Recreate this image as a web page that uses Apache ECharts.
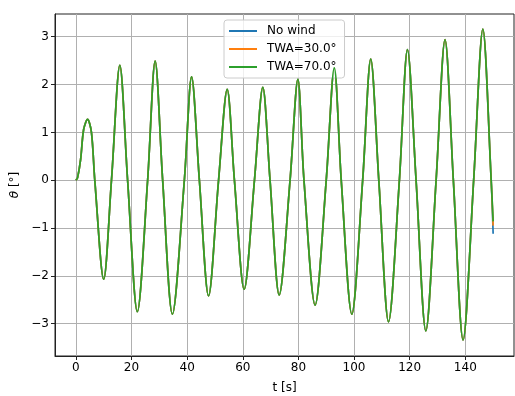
<!DOCTYPE html>
<html>
<head>
<meta charset="utf-8">
<script src="https://cdn.jsdelivr.net/npm/echarts@6/dist/echarts.min.js"></script>
<style>
html, body { margin: 0; padding: 0; background: #fff; }
#chart { width: 515px; height: 396px; }
</style>
</head>
<body>
<div id="chart"></div>
<script>
// time samples [s] (peaks, troughs, zero crossings)
const timeS = [0, 0.6, 1.7, 2.8, 4.2, 5.6, 6.8, 10.0, 12.8, 15.8, 18.6, 22.1, 25.8, 28.5, 31.2, 34.7,
    39.0, 41.6, 44.4, 47.7, 51.3, 54.4, 57.0, 60.5, 64.2, 67.2, 69.8, 73.1, 77.0, 79.8, 82.0, 86.0,
    90.0, 92.9, 95.4, 99.2, 103.1, 106.0, 108.9, 112.4, 116.3, 119.2, 122.3, 125.8, 129.5, 132.7,
    135.7, 139.2, 143.0, 146.3, 149.3]
// roll angle [deg], the three runs overlap almost exactly
const thetaCommon = [0, 0.05, 0.43, 1.06, 1.27, 1.0, 0, -2.07, 0, 2.40, 0, -2.75, 0, 2.49, 0, -2.80,
    0, 2.16, 0, -2.42, 0, 1.90, 0, -2.28, 0, 1.94, 0, -2.40, 0, 2.11, 0, -2.61,
    0, 2.35, 0, -2.80, 0, 2.53, 0, -2.96, 0, 2.73, 0, -3.15, 0, 2.94,
    0, -3.34, 0, 3.16, 0]
const endTime = 150
const seriesNames = ['No wind', 'TWA=30.0°', 'TWA=70.0°']
const endTheta = [-1.12, -0.95, -0.86]
const colors = ['#1f77b4', '#ff7f0e', '#2ca02c']
const xTicks = [0, 20, 40, 60, 80, 100, 120, 140]
const yTicks = [-3, -2, -1, 0, 1, 2, 3]

const font = 'DejaVu Sans'
const chart = echarts.init(document.getElementById('chart'), null, { renderer: 'canvas' })

const series = seriesNames.map((name, i) => {
    const data = timeS.map((t, k) => [t, thetaCommon[k]])
    data.push([endTime, endTheta[i]])
    return {
        name,
        type: 'line',
        data,
        smooth: 0.32,
        showSymbol: false,
        symbol: 'none',
        lineStyle: { width: 1.7, color: colors[i] },
        itemStyle: { color: colors[i] },
        z: 2 + i
    }
})

chart.setOption({
    animation: false,
    color: colors,
    grid: {
        left: 55, right: 1, top: 14, bottom: 40,
        outerBoundsMode: 'none',
        show: true, borderColor: '#222', borderWidth: 1, backgroundColor: 'transparent'
    },
    legend: {
        orient: 'vertical',
        left: 224, top: 20,
        icon: 'rect',
        itemWidth: 28, itemHeight: 2,
        itemGap: 6,
        padding: [5, 8, 5, 5],
        backgroundColor: 'rgba(255,255,255,0.8)',
        borderColor: '#cccccc', borderWidth: 1, borderRadius: 3,
        textStyle: { fontFamily: font, fontSize: 12, color: '#000', padding: [0, 0, 0, 5] },
        data: seriesNames
    },
    xAxis: {
        type: 'value',
        min: -7.5, max: 157.5,
        name: 't [s]',
        nameLocation: 'middle',
        nameGap: 26,
        nameTextStyle: { fontFamily: font, fontSize: 12, color: '#000' },
        axisLine: { show: true, onZero: false, lineStyle: { color: '#222' } },
        axisTick: { show: true, inside: false, length: 4, customValues: xTicks, lineStyle: { color: '#222' } },
        axisLabel: { customValues: xTicks, fontFamily: font, fontSize: 12, color: '#000', margin: 6 },
        splitLine: { show: true, lineStyle: { color: '#b0b0b0', width: 1 } }
    },
    yAxis: {
        type: 'value',
        min: -3.675, max: 3.475,
        name: '{i|θ} [°]',
        nameLocation: 'middle',
        nameGap: 34,
        nameRotate: 90,
        nameTextStyle: {
            fontFamily: font, fontSize: 12, color: '#000',
            rich: { i: { fontFamily: font, fontSize: 12, fontStyle: 'italic', color: '#000' } }
        },
        axisLine: { show: true, onZero: false, lineStyle: { color: '#222' } },
        axisTick: { show: true, inside: false, length: 4, customValues: yTicks, lineStyle: { color: '#222' } },
        axisLabel: {
            customValues: yTicks, fontFamily: font, fontSize: 12, color: '#000', margin: 6,
            formatter: v => (v < 0 ? '\u2212' + Math.abs(v) : String(v))
        },
        splitLine: { show: true, lineStyle: { color: '#b0b0b0', width: 1 } }
    },
    series
})
</script>
</body>
</html>
